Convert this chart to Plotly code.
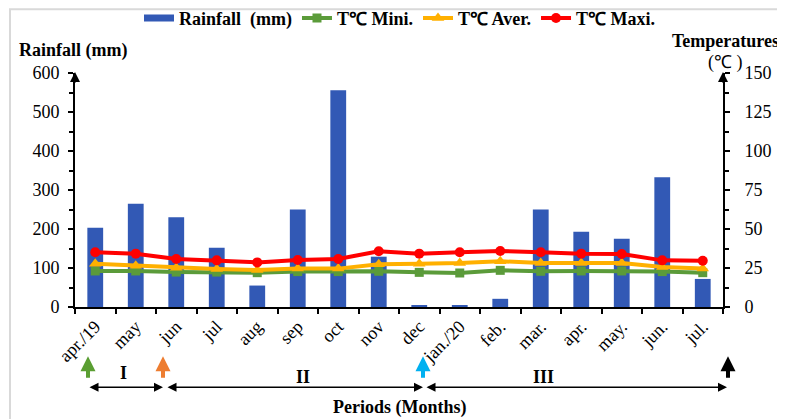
import plotly.graph_objects as go

months = ['apr./19', 'may', 'jun', 'jul', 'aug', 'sep', 'oct', 'nov', 'dec',
          'jan./20', 'feb.', 'mar.', 'apr.', 'may.', 'jun.', 'jul.']
rainfall = [203, 265, 230, 152, 55, 250, 556, 129, 5, 5, 21, 250, 193, 175, 333, 72]
t_min = [23.1, 23.1, 22.4, 22.4, 22.0, 22.7, 22.7, 22.9, 22.2, 21.8, 23.5, 22.9, 23.1, 23.1, 22.7, 22.0]
t_aver = [27.8, 26.5, 25.2, 24.4, 23.7, 24.6, 24.6, 27.4, 27.8, 28.2, 29.3, 28.2, 28.2, 28.2, 25.6, 24.6]
t_max = [35.1, 34.2, 30.8, 29.9, 28.6, 30.1, 30.8, 35.7, 34.2, 35.1, 35.9, 35.1, 34.2, 34.0, 29.9, 29.7]

FONT = "Liberation Serif"
OFF = 8  # page body margin offset
W, H = 785 - OFF, 419 - OFF
# plot area in page pixels
PL, PR, PT, PB = 75, 723, 72.7, 306.7
L, R, T, B = PL - OFF, PR - OFF, PT - OFF, PB - OFF
BLUE = '#3259b5'


def px(x):
    return (x - PL) / (PR - PL)


def py(y):
    return (PB - y) / (PB - PT)


fig = go.Figure()
fig.add_trace(go.Bar(x=months, y=rainfall, name='Rainfall  (mm)', marker_color=BLUE,
                     marker_line_width=0, width=0.39, yaxis='y', showlegend=False))
# legend entry for the bars (wide rectangle swatch, like the original)
fig.add_trace(go.Scatter(x=[None], y=[None], name='Rainfall  (mm)', mode='lines',
                         line=dict(color=BLUE, width=7), yaxis='y'))
fig.add_trace(go.Scatter(x=months, y=t_min, name='T℃ Mini.', mode='lines+markers', yaxis='y2',
                         line=dict(color='#5b9b3a', width=4), marker=dict(symbol='square', size=9, color='#5b9b3a')))
fig.add_trace(go.Scatter(x=months, y=t_aver, name='T℃ Aver.', mode='lines+markers', yaxis='y2',
                         line=dict(color='#ffb000', width=4), marker=dict(symbol='triangle-up', size=11, color='#ffb000')))
fig.add_trace(go.Scatter(x=months, y=t_max, name='T℃ Maxi.', mode='lines+markers', yaxis='y2',
                         line=dict(color='#ff0000', width=4), marker=dict(symbol='circle', size=10, color='#ff0000')))

axis_common = dict(showgrid=False, zeroline=False, showline=True, linecolor='black', linewidth=2,
                   ticks='outside', tickcolor='black', ticklen=5, tickwidth=2, automargin=False)

fig.update_layout(
    width=W, height=H,
    margin=dict(l=L, r=W - R, t=T, b=H - B, autoexpand=False),
    paper_bgcolor='white', plot_bgcolor='white',
    font=dict(family=FONT, size=17, color='black'),
    showlegend=True,
    legend=dict(orientation='h', x=px(400), y=py(18), xanchor='center', yanchor='middle',
                font=dict(family=FONT, size=18, color='black', weight='bold'),
                tracegroupgap=0, bgcolor='rgba(0,0,0,0)'),
    xaxis=dict(type='category', tickson='boundaries', tickangle=-45, range=[-0.5, 15.5],
               tickfont=dict(family=FONT, size=18, color='black'), **axis_common),
    yaxis=dict(range=[0, 600], dtick=100, tick0=0, ticklabelstandoff=5,
               tickfont=dict(family=FONT, size=18, color='black'),
               minor=dict(dtick=50, ticks='outside', ticklen=4, tickwidth=2, tickcolor='black'),
               **axis_common),
    yaxis2=dict(range=[0, 150], dtick=25, tick0=0, overlaying='y', side='right', ticklabelstandoff=11,
                tickfont=dict(family=FONT, size=18, color='black'),
                minor=dict(dtick=12.5, ticks='outside', ticklen=4, tickwidth=2, tickcolor='black'),
                **axis_common),
)

ann = []
# axis titles
ann.append(dict(text='<b>Rainfall (mm)</b>', x=px(17), y=py(50), xref='paper', yref='paper',
                xanchor='left', yanchor='middle', showarrow=False, font=dict(size=18)))
ann.append(dict(text='<b>Temperatures</b>', x=px(781), y=py(41), xref='paper', yref='paper',
                xanchor='right', yanchor='middle', showarrow=False, font=dict(size=18)))
ann.append(dict(text='(℃ )', x=px(725), y=py(62), xref='paper', yref='paper',
                xanchor='center', yanchor='middle', showarrow=False, font=dict(size=18)))
ann.append(dict(text='<b>Periods (Months)</b>', x=px(400), y=py(407), xref='paper', yref='paper',
                xanchor='center', yanchor='middle', showarrow=False, font=dict(size=18)))
# axis top arrows
for xa in (PL, PR):
    ann.append(dict(text='', x=px(xa), y=py(PT - 1), xref='paper', yref='paper', showarrow=True,
                    ax=0, ay=12, arrowhead=2, arrowsize=1, arrowwidth=2, arrowcolor='black'))
# period markers (up arrows)
for xa, col in ((88, '#5a9e32'), (163, '#ed7d31'), (423, '#00b0f0'), (728, 'black')):
    ann.append(dict(text='', x=px(xa), y=py(356), xref='paper', yref='paper', showarrow=True,
                    ax=0, ay=23, arrowhead=2, arrowsize=0.75, arrowwidth=4, arrowcolor=col))
# double arrows for periods
for x0, x1 in ((88, 163), (166, 423), (425, 727)):
    ann.append(dict(text='', x=px(x1), y=py(387), xref='paper', yref='paper', showarrow=True,
                    ax=-(x1 - x0), ay=0, arrowhead=2, startarrowhead=2, arrowside='end+start',
                    arrowsize=1.2, startarrowsize=1.2, arrowwidth=1.5, arrowcolor='black'))
for txt, xa, ya in (('I', 123, 373), ('II', 303, 377), ('III', 543, 377)):
    ann.append(dict(text='<b>%s</b>' % txt, x=px(xa), y=py(ya), xref='paper', yref='paper',
                    xanchor='center', yanchor='middle', showarrow=False, font=dict(size=18)))
fig.update_layout(annotations=ann)

# chart frame
fig.add_shape(type='rect', xref='paper', yref='paper', x0=px(10), x1=px(792), y0=py(9), y1=py(425),
              line=dict(color='#d9d9d9', width=2))

fig.write_html("out.html")
